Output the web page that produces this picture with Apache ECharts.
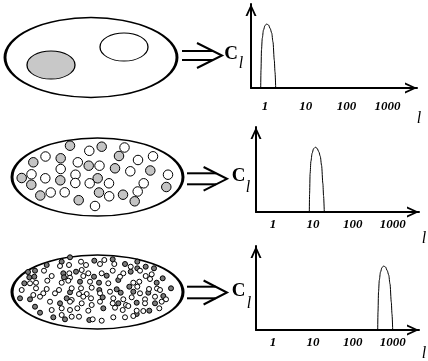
<!DOCTYPE html>
<html>
<head>
<meta charset="utf-8">
<script src="https://cdn.jsdelivr.net/npm/echarts@6/dist/echarts.min.js"></script>
<style>
  html, body { margin: 0; padding: 0; background: #ffffff; }
  #chart { width: 428px; height: 361px; }
</style>
</head>
<body>
<div id="chart"></div>
<script>
// Multipole index ticks shared by the three spectra (log scale)
const ellTicks = [1, 10, 100, 1000];
const ellTickLabels = ['1', '10', '100', '1000'];

// Spectrum peak for a few large patches: peak near l ~ 1
const peakLargeL = [0.785, 0.798, 0.82, 0.859, 0.918, 1.0, 1.10, 1.22, 1.34, 1.46, 1.57, 1.69, 1.76, 1.83];
const peakLargeC = [0, 0.214, 0.452, 0.595, 0.69, 0.744, 0.762, 0.75, 0.708, 0.655, 0.548, 0.333, 0.19, 0];

// Spectrum peak for medium patches: peak near l ~ 10
const peakMediumL = [8.13, 8.26, 8.51, 8.91, 9.55, 10.4, 11.5, 12.7, 14.1, 15.3, 16.5, 17.8, 18.5, 19.3];
const peakMediumC = [0, 0.214, 0.452, 0.595, 0.69, 0.744, 0.762, 0.75, 0.708, 0.655, 0.548, 0.333, 0.19, 0];

// Spectrum peak for small patches: peak near l ~ 600
const peakSmallL = [421, 428, 441, 462, 494, 539, 595, 660, 728, 794, 856, 922, 960, 1000];
const peakSmallC = [0, 0.214, 0.452, 0.595, 0.69, 0.744, 0.762, 0.75, 0.708, 0.655, 0.548, 0.333, 0.19, 0];

// Sky patches, sketch coordinates
const largeGrayPatch = [[51, 65]];
const largeWhitePatch = [[124, 47]];

const mediumGray = [
  [70, 145.7], [101.7, 146.7], [33.3, 162.3], [60.7, 158.3], [119, 156], [88.7, 165.7],
  [115, 168.3], [150.3, 170.5], [21.7, 178], [31.3, 184.7], [60.3, 180.3], [97.7, 178.3],
  [166.3, 187], [40.3, 195.5], [99, 192.5], [78.7, 200.2], [123, 194.7], [134.7, 201.3]
];
const mediumWhite = [
  [89.3, 150.8], [124.5, 147.5], [45.5, 156.5], [77.8, 162.3], [99.5, 165.7], [138, 160],
  [153, 156.3], [60.7, 169], [130.3, 171.3], [31.5, 174.3], [45.3, 178.3], [75.5, 174.7],
  [168, 174.7], [75.3, 183], [89.7, 183.3], [109, 183.3], [143.7, 183.3], [64.7, 192.3],
  [50.7, 192.5], [109.2, 196.3], [137.7, 191.5], [95, 206]
];

const smallGray = [
  [70, 257.3], [61.7, 261.7], [94.3, 260.7], [112.7, 259.3], [137.3, 261.7], [46.7, 265],
  [125, 264], [137.3, 268.3], [145.7, 266.7], [154, 268.3], [28, 272], [35, 270.7],
  [63.3, 273.3], [76, 271.7], [130.7, 271.7], [29.3, 277.3], [34.3, 276.7], [64, 277.3],
  [94, 276.7], [106.7, 275.7], [162.7, 278.3], [24.3, 283.3], [80, 281.7], [99, 282.7],
  [118.3, 280], [156.7, 282.7], [99.3, 290], [116.7, 289.3], [129.3, 286.7], [171, 288.3],
  [70, 292.3], [120.7, 292.7], [133.3, 291.7], [148.3, 292.7], [20, 298.3], [30, 299.3],
  [66.7, 298.3], [102.7, 297.3], [163.3, 296], [35, 306.7], [60, 303.3], [118.3, 303.3],
  [136.7, 302.7], [155, 303.3], [40, 312.7], [103.3, 308.3], [149.3, 310.7], [53.3, 317.3],
  [65, 319.3], [89.3, 320], [136.7, 314]
];
const smallWhite = [
  [81, 261.7], [104.3, 260], [60, 266], [69, 265], [86, 265], [100, 264], [114.3, 264],
  [130.7, 266.7], [44, 270.7], [51.7, 276], [69.3, 273.3], [81.7, 270], [88.3, 273.3],
  [101.7, 273.3], [112.7, 270.7], [123.3, 273.3], [140, 270.7], [151.7, 274.3], [70, 277.7],
  [83.3, 276], [120, 276.7], [145.7, 276], [150, 279], [30, 283.3], [36, 282.7], [47.3, 280.7],
  [61.7, 282.7], [68.3, 280.7], [90, 281.7], [108.3, 283.3], [133.3, 282.7], [139.3, 281.7],
  [21.7, 290], [36, 288.3], [46.7, 289], [59, 290], [71.7, 288.3], [81, 288.3], [91.7, 287.7],
  [110, 291.7], [137.3, 286.7], [149, 289], [157, 288.5], [33.3, 295], [43.3, 293.3],
  [55, 293.3], [79, 294], [86.7, 294], [100, 293.3], [140, 293.3], [160, 290], [40, 296.7],
  [71.7, 300], [83.3, 296.7], [91, 298.3], [113.3, 298.3], [123.3, 299.3], [131.7, 297.3],
  [145, 299.3], [155, 296.7], [166, 299.3], [50, 301.7], [70, 301.7], [81.7, 303.3],
  [91.7, 305], [100, 301.7], [112.7, 303.3], [126, 305], [145, 303.3], [161.7, 301.7],
  [51.7, 310], [61.7, 308.3], [70, 310], [77.3, 308.3], [88.3, 310.7], [115, 307.7],
  [122.7, 310], [128.3, 306], [136.7, 310.7], [143.3, 311], [159.3, 308.3], [61.7, 315],
  [71.7, 316.7], [79, 316.7], [92.7, 319.3], [101.7, 320.7], [113.3, 317.3], [125, 317.3],
  [133.3, 316]
];

// Sky outlines, sketch coordinates
const skyOutlines = [[91, 57.5], [97.5, 177], [97.5, 292]];

const INK = '#000000';
const TICK_FONT = '"Liberation Serif", "DejaVu Serif", serif';
// Open chevron used as axis arrowhead (points up in its own frame)
const CHEVRON = 'path://M0,12 L5.5,0 L11,12 L9,12 L5.5,4 L2,12 Z';

function spectrumAxes(idx, minLog, maxLog, labelMargin) {
  const x = {
    type: 'value', gridIndex: idx, min: minLog, max: maxLog,
    axisLine: {
      show: true, onZero: false,
      lineStyle: { color: INK, width: 2 },
      symbol: ['none', CHEVRON], symbolSize: [11, 12], symbolOffset: [0, -6]
    },
    axisTick: { show: false },
    splitLine: { show: false },
    axisLabel: {
      customValues: ellTicks.map(Math.log10),
      formatter: function (v) { return ellTickLabels[Math.round(v)]; },
      margin: labelMargin,
      color: INK, fontFamily: TICK_FONT, fontSize: 13,
      fontWeight: 'bold', fontStyle: 'italic'
    }
  };
  const y = {
    type: 'value', gridIndex: idx, min: 0, max: 1,
    axisLine: {
      show: true, onZero: false,
      lineStyle: { color: INK, width: 2 },
      symbol: ['none', CHEVRON], symbolSize: [11, 12], symbolOffset: [0, -6]
    },
    axisTick: { show: false },
    splitLine: { show: false },
    axisLabel: { show: false }
  };
  return [x, y];
}

function peakSeries(idx, ls, cs) {
  return {
    type: 'line', xAxisIndex: idx, yAxisIndex: idx,
    data: ls.map(function (l, i) { return [Math.log10(l), cs[i]]; }),
    showSymbol: false, smooth: 0.3, smoothMonotone: 'x',
    lineStyle: { color: INK, width: 1 },
    silent: true, z: 3
  };
}

function patchSeries(data, size, fill, border, borderWidth, z) {
  return {
    type: 'scatter', xAxisIndex: 0, yAxisIndex: 0,
    data: data, symbol: 'circle', symbolSize: size,
    itemStyle: { color: fill, borderColor: border, borderWidth: borderWidth, opacity: 1 },
    silent: true, z: z
  };
}

// Double-line "implies" arrow between a sky map and its spectrum
function doubleArrow(x0, tip, yMid, gap, headLen, headHalf) {
  const back = tip - headLen;
  const yTop = yMid - gap / 2, yBot = yMid + gap / 2;
  const xEnd = back + headLen * (1 - (gap / 2) / headHalf);
  const style = { stroke: INK, lineWidth: 2, fill: null };
  return [
    { type: 'line', shape: { x1: x0, y1: yTop, x2: xEnd, y2: yTop }, style: style },
    { type: 'line', shape: { x1: x0, y1: yBot, x2: xEnd, y2: yBot }, style: style },
    { type: 'polyline', shape: { points: [[back, yMid - headHalf], [tip, yMid], [back, yMid + headHalf]] }, style: style }
  ];
}

function clLabel(cx, cy, lx, ly) {
  return [
    { type: 'text', x: cx, y: cy, style: { text: 'C', fill: INK, font: 'bold 19px ' + TICK_FONT, align: 'center', verticalAlign: 'middle' } },
    { type: 'text', x: lx, y: ly, style: { text: 'l', fill: INK, font: 'italic 16px ' + TICK_FONT, align: 'center', verticalAlign: 'middle' } }
  ];
}

function ellName(x, y) {
  return { type: 'text', x: x, y: y, style: { text: 'l', fill: INK, font: 'italic 16px ' + TICK_FONT, align: 'center', verticalAlign: 'middle' } };
}

const a1 = spectrumAxes(1, -0.343, 3.726, 12);
const a2 = spectrumAxes(2, -0.426, 3.659, 6);
const a3 = spectrumAxes(3, -0.426, 3.659, 6);

const chart = echarts.init(document.getElementById('chart'), null, { renderer: 'canvas' });
chart.setOption({
  animation: false,
  backgroundColor: '#ffffff',
  grid: [
    { left: 0, top: 0, width: 428, height: 361 },
    { left: 251, top: 4, width: 166, height: 84 },
    { left: 256, top: 127, width: 163, height: 85 },
    { left: 256, top: 246, width: 163, height: 84 }
  ],
  xAxis: [
    { type: 'value', gridIndex: 0, min: 0, max: 428, show: false },
    a1[0], a2[0], a3[0]
  ],
  yAxis: [
    { type: 'value', gridIndex: 0, min: 0, max: 361, inverse: true, show: false },
    a1[1], a2[1], a3[1]
  ],
  series: [
    patchSeries([skyOutlines[0]], [172, 80], '#ffffff', INK, 2, 1),
    patchSeries([skyOutlines[1]], [171, 78], '#ffffff', INK, 2, 1),
    patchSeries([skyOutlines[2]], [171, 74], '#ffffff', INK, 2, 1),
    patchSeries(largeGrayPatch, [48, 28], '#c8c8c8', INK, 1, 2),
    patchSeries(largeWhitePatch, [48, 28], '#ffffff', INK, 1, 2),
    patchSeries(mediumGray, 9.5, '#c4c4c4', INK, 1, 2),
    patchSeries(mediumWhite, 9.5, '#ffffff', INK, 1, 2),
    patchSeries(smallGray, 5, '#7a7a7a', INK, 1, 2),
    patchSeries(smallWhite, 5, '#ffffff', INK, 1, 2),
    peakSeries(1, peakLargeL, peakLargeC),
    peakSeries(2, peakMediumL, peakMediumC),
    peakSeries(3, peakSmallL, peakSmallC)
  ],
  graphic: [].concat(
    doubleArrow(182, 222, 55.5, 9, 25, 12.5),
    doubleArrow(187, 227, 178.8, 11, 23.4, 11.8),
    doubleArrow(187, 227, 292.5, 11.6, 23.4, 12),
    clLabel(231, 54, 241, 64),
    clLabel(238.5, 176, 248, 188),
    clLabel(238.5, 291.5, 249, 304),
    [ellName(419, 119), ellName(424, 239), ellName(424, 354)]
  )
});
</script>
</body>
</html>
